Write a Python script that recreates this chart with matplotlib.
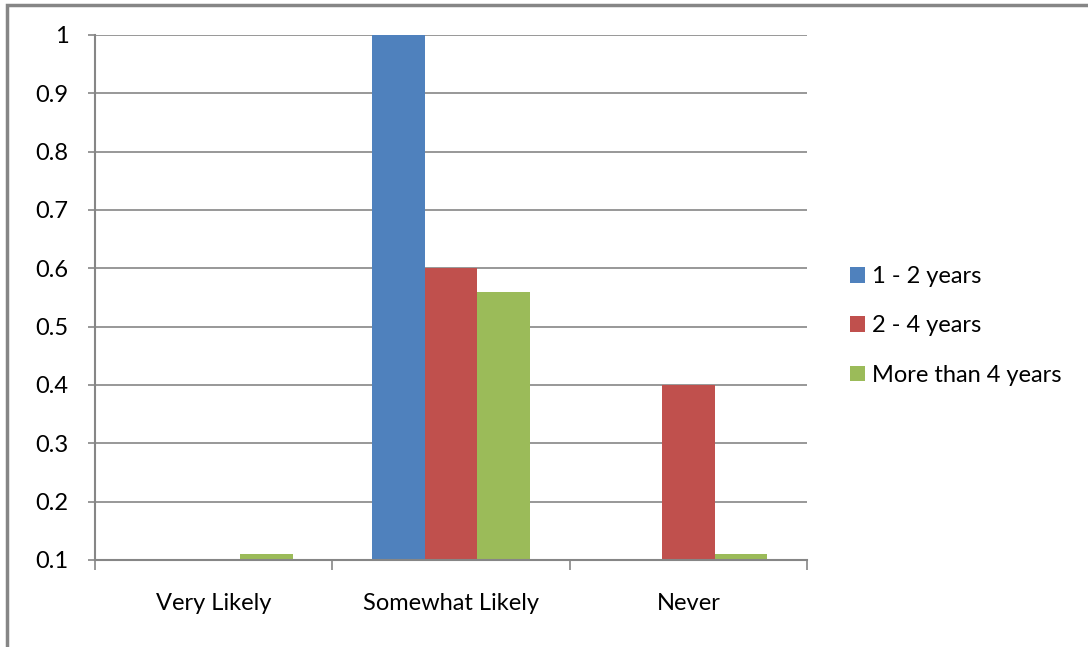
import numpy as np
import matplotlib
matplotlib.use("Agg")
import matplotlib.pyplot as plt
from matplotlib.patches import Rectangle

# survey responses by years of experience
categories = ["Very Likely", "Somewhat Likely", "Never"]
series_names = ["1 - 2 years", "2 - 4 years", "More than 4 years"]
years_1_2 = [0.0, 1.0, 0.0]
years_2_4 = [0.0, 0.6, 0.4]
years_4_plus = [0.11, 0.56, 0.11]
yticks = [0.1, 0.2, 0.3, 0.4, 0.5, 0.6, 0.7, 0.8, 0.9, 1.0]

colors = ["#4F81BD", "#C0504D", "#9BBB59"]
gray = "#868686"
fs = 17

plt.rcParams["font.family"] = ["Lato", "DejaVu Sans"]

fig = plt.figure(figsize=(10.88, 6.47), dpi=100)
ax = fig.add_axes([95 / 1088, 1 - 560 / 647, 712 / 1088, 525 / 647])

x = np.arange(len(categories))
width = 1 / 4.5
for i, (vals, name) in enumerate(zip([years_1_2, years_2_4, years_4_plus], series_names)):
    ax.bar(x + (i - 1) * width, vals, width, color=colors[i], label=name, zorder=2)

ax.set_xlim(-0.5, 2.5)
ax.set_ylim(0.1, 1.0)
ax.set_yticks(yticks)
ax.set_yticklabels([f"{v:g}" for v in yticks])
ax.yaxis.grid(True, color=gray, linewidth=1.2, zorder=0)
ax.set_axisbelow(True)

ax.set_xticks(x)
ax.set_xticklabels(categories)
ax.set_xticks([-0.5, 0.5, 1.5, 2.5], minor=True)
ax.tick_params(axis="x", which="major", length=0, pad=24, labelsize=fs)
ax.tick_params(axis="x", which="minor", length=7, width=1.2, color=gray, direction="out")
ax.tick_params(axis="y", length=5, width=1.2, color=gray, pad=14, labelsize=fs)

for side in ("top", "right"):
    ax.spines[side].set_visible(False)
for side in ("left", "bottom"):
    ax.spines[side].set_color(gray)
    ax.spines[side].set_linewidth(1.5)

leg = ax.legend(loc="center left", bbox_to_anchor=(1.03, 0.446), frameon=False,
                fontsize=fs, handlelength=0.65, handleheight=0.65,
                handletextpad=0.3, labelspacing=1.2)

# outer chart frame
fig.patches.append(Rectangle((7 / 1088, -0.1), 1.2, 1.1 - 5 / 647,
                             transform=fig.transFigure, fill=False,
                             edgecolor=gray, linewidth=2.5))

fig.savefig("out.png", dpi=100)
